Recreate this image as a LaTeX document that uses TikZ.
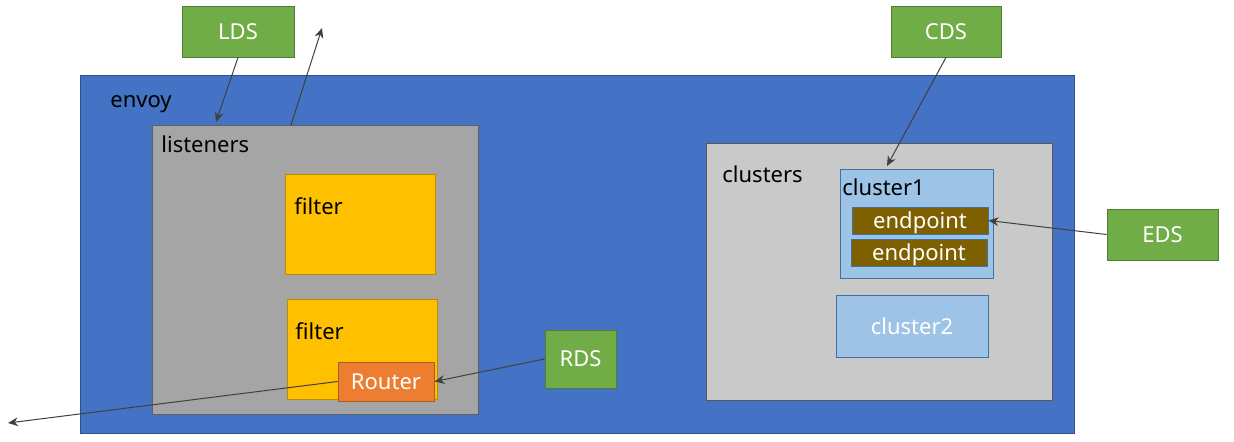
\documentclass[tikz,border=0pt]{standalone}
\usepackage{fontspec}
\setmainfont{Noto Sans}
\usepackage{tikz}
\usetikzlibrary{arrows.meta,positioning,fit}
\definecolor{xdsgreen}{HTML}{70AD47}
\definecolor{xdsedge}{HTML}{507E32}
\definecolor{envoyblue}{HTML}{4472C4}
\definecolor{envoyedge}{HTML}{2F528F}
\definecolor{listgray}{HTML}{A5A5A5}
\definecolor{clustgray}{HTML}{C9C9C9}
\definecolor{filteryellow}{HTML}{FFC000}
\definecolor{filteredge}{HTML}{BC8C00}
\definecolor{routerorange}{HTML}{ED7D31}
\definecolor{routeredge}{HTML}{AE5A21}
\definecolor{clustblue}{HTML}{9DC3E6}
\definecolor{clustedge}{HTML}{41719C}
\definecolor{endpointbrown}{HTML}{7F6000}
\definecolor{arrowgray}{HTML}{404040}
\tikzset{xds/.style={
    % The shape:
    rectangle,
    inner sep=0pt,
    % The border:
    draw=xdsedge,
    % The filling:
    fill=xdsgreen,
    % Font
    text=white, font=\fontsize{11}{13}\selectfont
    },
    area/.style={
    rectangle,
    inner sep=0pt,
    line width=0.5pt,
    },
    caption/.style={
    anchor=west,
    inner sep=0pt,
    font=\fontsize{11}{13}\selectfont,
    },
    feed/.style={
    draw=arrowgray,
    line width=0.5pt,
    -{Stealth[length=5pt,width=4.4pt]},
    },
}

\begin{document}
\begin{tikzpicture}[x=0.5pt,y=-0.5pt]
    \useasboundingbox (0,0) rectangle (1234,441);

    % the big envoy box
    \node (envoy)     [area,draw=envoyedge,fill=envoyblue,fit={(80,75) (1074,433)}] {};
    \node (envoytxt)  [caption] at (110,104) {envoy};

    % listener side
    \node (listeners) [area,draw=gray!75!black,fill=listgray,fit={(152,125) (478,414)}] {};
    \node (listtxt)   [caption] at (161,144) {listeners};
    \node (filter)    [area,draw=filteredge,fill=filteryellow,fit={(285,174) (435,274)}] {};
    \node (filtertxt) [caption] at (294,206) {filter};
    \node (filter2)   [area,draw=filteredge,fill=filteryellow,fit={(287,299) (437,399)}] {};
    \node (filter2txt)[caption] at (295,331) {filter};
    \node (Router)    [area,draw=routeredge,fill=routerorange,fit={(338,362) (434,401)}] {};
    \node (routertxt) [caption,text=white,anchor=center] at (Router.center) {Router};

    % cluster side
    \node (clusters)  [area,draw=gray!70!black,fill=clustgray,fit={(706,143) (1052,400)}] {};
    \node (clusttxt)  [caption] at (722,174) {clusters};
    \node (cluster1)  [area,draw=clustedge,fill=clustblue,fit={(840,169) (993,278)}] {};
    \node (c1txt)     [caption] at (842,187) {cluster1};
    \node (endpoint)  [area,draw=clustedge,fill=endpointbrown,fit={(852,207) (988,234)}] {};
    \node (eptxt)     [caption,text=white,anchor=center] at ([yshift=-1]endpoint.center) {endpoint};
    \node (endpoint2) [area,draw=clustedge,fill=endpointbrown,fit={(851,239) (987,266)}] {};
    \node (ep2txt)    [caption,text=white,anchor=center] at ([yshift=-1]endpoint2.center) {endpoint};
    \node (cluster2)  [area,draw=clustedge,fill=clustblue,fit={(836,295) (988,357)}] {};
    \node (c2txt)     [caption,text=white,anchor=center] at (cluster2.center) {cluster2};

    % discovery services
    \node (LDS) [xds,minimum width=56pt,minimum height=25.5pt] at (238,31.5) {LDS};
    \node (CDS) [xds,minimum width=55pt,minimum height=25.5pt] at (946,31.5) {CDS};
    \node (EDS) [xds,minimum width=55.5pt,minimum height=25.5pt] at (1162.5,234.5) {EDS};
    \node (RDS) [xds,minimum width=35.5pt,minimum height=29pt] at (580.5,359) {RDS};

    % loose ends
    \coordinate (ldsin)   at (216,122);
    \coordinate (listout) at (291,125);
    \coordinate (upend)   at (322,28);
    \coordinate (leftend) at (8,423);
    \coordinate (cdsin)   at (887,166);

    \draw[feed] (LDS.south) -- (ldsin);
    \draw[feed] (listout) -- (upend);
    \draw[feed] (Router.west) -- (leftend);
    \draw[feed] (RDS.west) -- (Router.east);
    \draw[feed] (CDS.south) -- (cdsin);
    \draw[feed] (EDS.west) -- (endpoint.east);
  \end{tikzpicture}
\end{document}
